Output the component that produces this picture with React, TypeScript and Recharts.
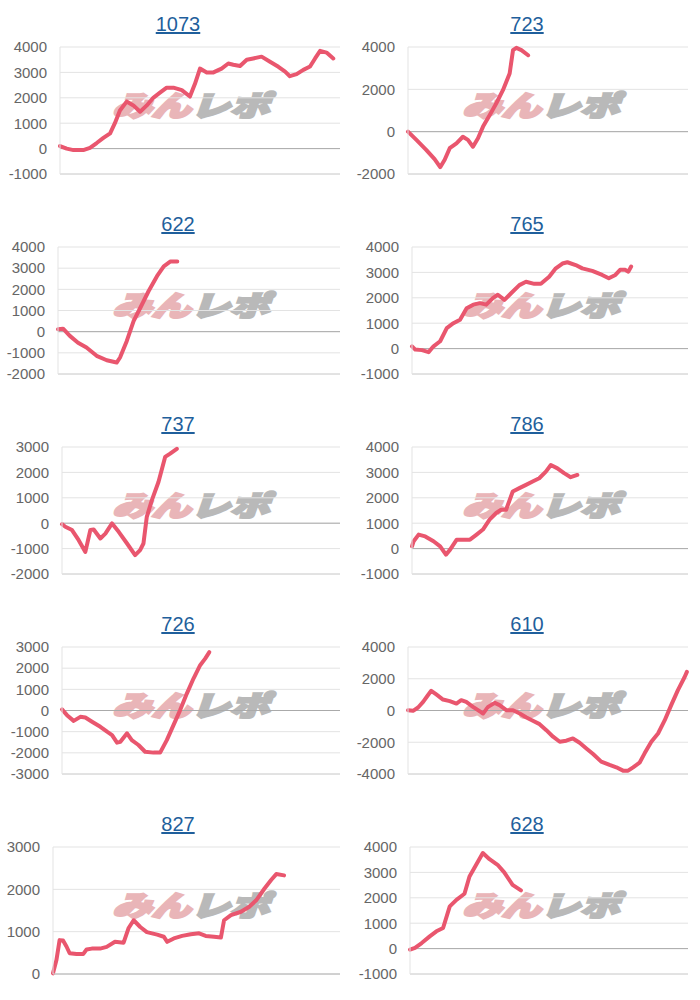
import { LineChart, Line, XAxis, YAxis, CartesianGrid, ReferenceLine } from 'recharts'

// 台番号ごとの差枚推移 (x: 進行率 %, y: 差枚)
const x1073 = [0, 2.4, 4.8, 8.3, 10.7, 13.1, 15.5, 17.9, 19.6, 21.4, 23.8, 26.2, 28.6, 31, 33.3, 35.7, 38.1, 40.5, 43.5, 46.4, 48.2, 50, 52.4, 54.8, 57.7, 60.1, 61.9, 64.3, 66.7, 69, 72, 75, 78, 80.4, 82.1, 84.5, 86.9, 89.3, 91.1, 92.9, 95.2, 97.6]
const y1073 = [100, 0, -60, -60, 30, 220, 420, 600, 1000, 1500, 1850, 1700, 1450, 1700, 2000, 2200, 2400, 2400, 2300, 2050, 2550, 3150, 3000, 3000, 3150, 3350, 3300, 3250, 3500, 3550, 3620, 3420, 3220, 3030, 2850, 2930, 3100, 3230, 3550, 3850, 3780, 3550]

const x723 = [0, 3, 6.5, 9.5, 11.5, 13.1, 14.9, 17.3, 19.6, 21.4, 23.2, 25, 26.8, 29.2, 31.5, 33.9, 36.3, 37.5, 38.7, 40.5, 42.9]
const y723 = [0, -390, -860, -1300, -1680, -1330, -780, -550, -240, -390, -710, -310, 240, 790, 1330, 1960, 2750, 3850, 3960, 3850, 3610]

const x622 = [0, 1.8, 4.2, 7.1, 10.1, 13.7, 17.3, 20.8, 22, 24.4, 26.8, 29.2, 32.1, 35.1, 37.5, 39.9, 42.3]
const y622 = [110, 140, -200, -520, -750, -1140, -1350, -1460, -1220, -440, 500, 1130, 1910, 2620, 3090, 3320, 3320]

const x765 = [0, 1.2, 3.6, 6, 7.8, 10.2, 12.6, 15, 17.4, 19.8, 22.2, 24.6, 26.9, 29.3, 31.1, 33.5, 35.9, 38.9, 41.3, 44.3, 46.7, 49.7, 52.1, 54.5, 56.3, 59.3, 61.7, 65.3, 68.9, 71.3, 73.7, 75.4, 77.2, 78.4, 79.4]
const y765 = [90, -40, -60, -140, 90, 290, 810, 1000, 1140, 1590, 1730, 1790, 1730, 1990, 2120, 1920, 2180, 2500, 2630, 2550, 2550, 2830, 3160, 3350, 3400, 3290, 3160, 3060, 2900, 2770, 2900, 3100, 3100, 3030, 3230]

const x737 = [0, 1.2, 3.6, 6, 8.4, 10.2, 11.4, 13.8, 15.6, 18, 20.4, 23.4, 26.3, 28.1, 29.3, 30.5, 32.3, 34.7, 37.1, 38.9, 41.3]
const y737 = [-40, -140, -270, -670, -1130, -270, -250, -600, -410, -10, -340, -800, -1260, -1060, -800, 250, 900, 1620, 2610, 2740, 2930]

const x786 = [0, 0.6, 2.4, 4.8, 7.8, 10.2, 12.3, 13.8, 16.2, 18.6, 21, 23.4, 25.7, 28.1, 30.5, 32.3, 34.1, 36.5, 38.9, 41.3, 43.7, 46.1, 48.5, 50.3, 52.7, 55.1, 57.5, 59.9]
const y786 = [90, 290, 550, 480, 290, 90, -240, -40, 350, 350, 350, 550, 750, 1140, 1400, 1530, 1530, 2250, 2380, 2510, 2640, 2770, 3030, 3290, 3160, 2970, 2810, 2900]

const x726 = [0, 1.8, 4.2, 6.6, 8.4, 10.8, 13.8, 16.2, 18, 19.8, 21, 23.4, 25.1, 27.5, 29.9, 32.9, 35.3, 37.7, 40.1, 42.5, 44.9, 47.3, 49.7, 51.5, 53]
const y726 = [50, -220, -490, -300, -330, -530, -770, -1000, -1160, -1520, -1480, -1080, -1400, -1630, -1950, -1990, -1990, -1400, -690, 20, 800, 1510, 2140, 2450, 2760]

const x610 = [0, 1.8, 3.6, 5.4, 7.1, 8.3, 10.1, 12.5, 14.9, 17.3, 19, 20.8, 23.2, 25, 26.8, 28.6, 31, 32.7, 35.1, 37.5, 39.9, 42.3, 44.6, 47, 49.4, 51.8, 54.2, 56.5, 58.9, 61.3, 63.7, 66.1, 69, 72, 74.4, 76.8, 78.6, 80.4, 82.7, 84.5, 86.9, 89.3, 91.7, 94, 96.4, 98.8, 99.6]
const y610 = [20, -20, 190, 540, 960, 1240, 1010, 690, 590, 440, 650, 540, 230, 20, -190, 230, 480, 340, 20, 20, -190, -440, -650, -860, -1240, -1650, -1970, -1900, -1760, -2030, -2390, -2740, -3220, -3430, -3580, -3790, -3790, -3580, -3290, -2700, -1970, -1450, -610, 340, 1280, 2110, 2430]

const x827 = [0, 1.2, 2.3, 3.5, 4.7, 5.8, 8.2, 10.5, 11.7, 13.5, 16.4, 18.7, 21.6, 24.6, 26.3, 28.1, 30.4, 32.7, 36.3, 38.6, 39.8, 42.1, 45, 48, 50.9, 53.2, 56.1, 58.5, 59.6, 62, 65.5, 68.4, 70.8, 73.7, 76, 77.8, 80.5]
const y827 = [15, 330, 800, 790, 650, 490, 470, 470, 580, 600, 600, 640, 760, 740, 1080, 1270, 1110, 990, 930, 880, 760, 840, 900, 940, 960, 900, 880, 860, 1270, 1390, 1470, 1590, 1740, 2020, 2220, 2360, 2330]

const x628 = [0, 1.8, 4.2, 7.1, 9.5, 11.9, 14.3, 16.7, 19.6, 21.4, 23.8, 26.2, 28.6, 31.5, 33.9, 36.9, 39.9]
const y628 = [-40, 30, 220, 480, 680, 810, 1660, 1920, 2160, 2840, 3300, 3760, 3520, 3300, 3000, 2510, 2290]

// 目盛り
const ticksA = [-1000, 0, 1000, 2000, 3000, 4000]
const ticks723 = [-2000, 0, 2000, 4000]
const ticks622 = [-2000, -1000, 0, 1000, 2000, 3000, 4000]
const ticks737 = [-2000, -1000, 0, 1000, 2000, 3000]
const ticks726 = [-3000, -2000, -1000, 0, 1000, 2000, 3000]
const ticks610 = [-4000, -2000, 0, 2000, 4000]
const ticks827 = [0, 1000, 2000, 3000]

const machines = [
    { title: '1073', xs: x1073, ys: y1073, ticks: ticksA },
    { title: '723', xs: x723, ys: y723, ticks: ticks723 },
    { title: '622', xs: x622, ys: y622, ticks: ticks622 },
    { title: '765', xs: x765, ys: y765, ticks: ticksA },
    { title: '737', xs: x737, ys: y737, ticks: ticks737 },
    { title: '786', xs: x786, ys: y786, ticks: ticksA },
    { title: '726', xs: x726, ys: y726, ticks: ticks726 },
    { title: '610', xs: x610, ys: y610, ticks: ticks610 },
    { title: '827', xs: x827, ys: y827, ticks: ticks827 },
    { title: '628', xs: x628, ys: y628, ticks: ticksA },
]

// y軸の位置 (セル内のx座標)
const axisLeft = [60, 58, 58, 62, 62, 62, 62, 58, 53, 60]

const FONT = '"Liberation Sans", Arial, sans-serif'

function Watermark() {
    return (
        <div
            style={{
                position: 'absolute',
                left: 113,
                top: 84,
                width: 164,
                height: 40,
                display: 'flex',
                justifyContent: 'center',
                alignItems: 'center',
                pointerEvents: 'none',
            }}
        >
            <div
                style={{
                    fontFamily: '"Noto Sans CJK JP", sans-serif',
                    fontWeight: 900,
                    fontSize: 28,
                    lineHeight: '40px',
                    whiteSpace: 'nowrap',
                    transform: 'scaleX(1.4) skewX(-14deg)',
                }}
            >
                <span style={{ color: '#e9b5b8', WebkitTextStroke: '2.5px #e9b5b8' }}>みん</span>
                <span style={{ color: '#b9b9b9', WebkitTextStroke: '2.5px #b9b9b9' }}>レポ</span>
            </div>
        </div>
    )
}

function Cell({ m, index }: { m: any; index: number }) {
    const col = index % 2
    const row = Math.floor(index / 2)
    const data = m.xs.map((x: number, i: number) => ({ x, y: m.ys[i] }))
    const plotRight = col === 0 ? 340 : 338
    const lo = m.ticks[0]
    const hi = m.ticks[m.ticks.length - 1]

    return (
        <div style={{ position: 'absolute', left: col * 350, top: row * 200, width: 350, height: 200 }}>
            <div
                style={{
                    position: 'absolute',
                    left: 0,
                    width: col === 0 ? 356 : 354,
                    top: 12,
                    textAlign: 'center',
                    fontFamily: FONT,
                    fontSize: 20,
                    lineHeight: '24px',
                    color: '#1f5f9c',
                    textDecoration: 'underline',
                }}
            >
                {m.title}
            </div>
            <Watermark />
            <div style={{ position: 'absolute', left: 0, top: 0 }}>
                <LineChart
                    width={350}
                    height={200}
                    data={data}
                    margin={{ top: 47, right: 350 - plotRight, bottom: 25, left: 0 }}
                    style={{ fontFamily: FONT }}
                >
                    <CartesianGrid vertical={false} stroke="#e3e3e3" />
                    <XAxis
                        type="number"
                        dataKey="x"
                        domain={[0, 100]}
                        tick={false}
                        tickLine={false}
                        axisLine={{ stroke: '#d4d4d4' }}
                        height={1}
                    />
                    <YAxis
                        width={axisLeft[index]}
                        domain={[lo, hi]}
                        ticks={m.ticks}
                        interval={0}
                        tick={{ fill: '#666', fontSize: 15 }}
                        tickLine={false}
                        tickMargin={7}
                        axisLine={{ stroke: '#e3e3e3' }}
                    />
                    <ReferenceLine y={0} stroke="#aaaaaa" />
                    <Line
                        type="linear"
                        dataKey="y"
                        stroke="#e9566e"
                        strokeWidth={4}
                        strokeLinejoin="round"
                        strokeLinecap="round"
                        dot={false}
                        isAnimationActive={false}
                    />
                </LineChart>
            </div>
        </div>
    )
}

export default function App() {
    return (
        <div style={{ position: 'absolute', left: 0, top: 0, width: 700, height: 1000, background: '#fff' }}>
            {machines.map((m, i) => (
                <Cell key={m.title} m={m} index={i} />
            ))}
        </div>
    )
}
